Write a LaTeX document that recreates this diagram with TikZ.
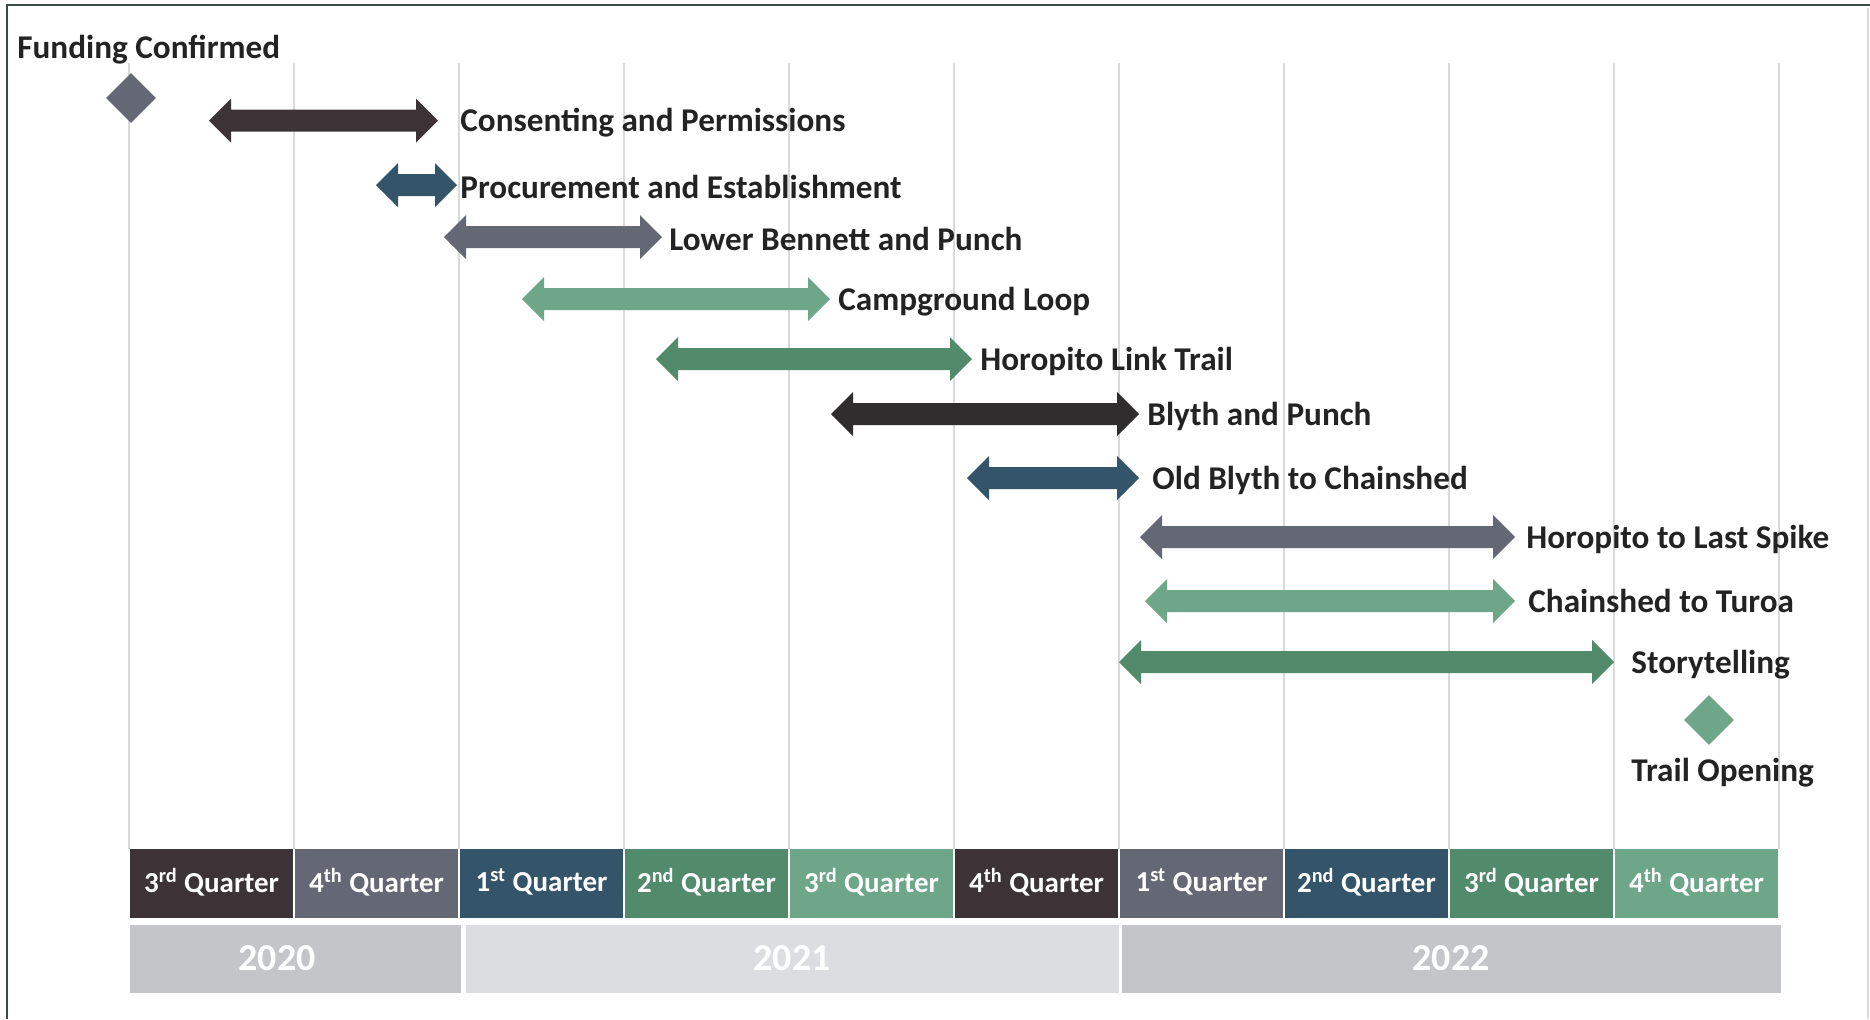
\documentclass[tikz,border=0pt]{standalone}
\usepackage{fontspec}
\setmainfont{Carlito}
\usetikzlibrary{shapes.geometric}

\definecolor{cdark}{HTML}{3C3337}
\definecolor{cblack}{HTML}{2F2D2E}
\definecolor{cgray}{HTML}{646874}
\definecolor{cblue}{HTML}{34546A}
\definecolor{cgreen}{HTML}{528A6C}
\definecolor{clight}{HTML}{6EA68A}
\definecolor{yearmid}{HTML}{C3C5C8}
\definecolor{yearpale}{HTML}{DCDDE0}
\definecolor{gridc}{HTML}{D9D9D9}
\definecolor{framec}{HTML}{3F4A48}
\definecolor{labelc}{HTML}{232323}

% double-headed block arrow: name, colour, left tip x, right tip x, centre y
\newcommand\spanarrow[5]{%
  \fill[#2] (#3,#5) -- ({#3+22},{#5-22}) -- ({#3+22},{#5-11})
    -- ({#4-22},{#5-11}) -- ({#4-22},{#5-22}) -- (#4,#5)
    -- ({#4-22},{#5+22}) -- ({#4-22},{#5+11}) -- ({#3+22},{#5+11})
    -- ({#3+22},{#5+22}) -- cycle;
  \coordinate (#1) at (#4,#5);
}

\begin{document}
\begin{tikzpicture}[x=0.5pt,y=-0.5pt,
  lbl/.style={anchor=west, inner sep=0pt, text=labelc, yshift=-1.2pt,
    font=\bfseries\fontsize{16.6}{18}\selectfont},
  qtr/.style={inner sep=0pt, text=white,
    font=\bfseries\fontsize{14.5}{16}\selectfont},
  yr/.style={inner sep=0pt, text=white,
    font=\bfseries\fontsize{19}{22}\selectfont},
  grid line/.style={gridc, line width=1pt},
  milestone/.style={diamond, inner sep=0pt, minimum width=25pt, minimum height=25pt}]

\useasboundingbox (0,0) rectangle (1870,1019);
\fill[white] (0,0) rectangle (1870,1019);

% outer frame
\draw[framec, line width=1.2pt] (7,1019) -- (7,5) -- (1870,5);
\draw[gridc, line width=0.6pt] (1868,8) -- (1868,1019);

% quarter grid lines
\foreach \k in {0,...,10}
  \draw[grid line] ({129+165*\k},63) -- ({129+165*\k},849);

% quarter cells
\foreach \k/\cc/\qq in {0/cdark/3\textsuperscript{rd},1/cgray/4\textsuperscript{th},
    2/cblue/1\textsuperscript{st},3/cgreen/2\textsuperscript{nd},4/clight/3\textsuperscript{rd},
    5/cdark/4\textsuperscript{th},6/cgray/1\textsuperscript{st},7/cblue/2\textsuperscript{nd},
    8/cgreen/3\textsuperscript{rd},9/clight/4\textsuperscript{th}}{
  \fill[\cc] ({129+165*\k+1},849) rectangle ({129+165*(\k+1)-1},918);
  \node[qtr] (q\k) at ({129+165*\k+82.5},882) {\qq\ Quarter};
}

% year bands
\fill[yearmid]  (130,925) rectangle (461,993);
\fill[yearpale] (466,925) rectangle (1119,993);
\fill[yearmid]  (1122,925) rectangle (1781,993);
\node[yr] (y2020) at (277,958) {2020};
\node[yr] (y2021) at (792,958) {2021};
\node[yr] (y2022) at (1451,958) {2022};

% milestones
\node[milestone, fill=cgray] (fund) at (131,98) {};
\node[lbl] (fundlbl) at (17,47) {Funding Confirmed};
\node[milestone, fill=clight] (open) at (1709,720) {};
\node[lbl] (openlbl) at (1631,770) {Trail Opening};

% work packages
\spanarrow{cons}{cdark}{209}{438}{120.5}
\node[lbl] (conslbl) at (460,120.5) {Consenting and Permissions};
\spanarrow{proc}{cblue}{376}{457}{185}
\node[lbl] (proclbl) at (460,185) {Procurement and Establishment};
\spanarrow{lbp}{cgray}{444}{662}{237}
\node[lbl] (lbplbl) at (669,237) {Lower Bennett and Punch};
\spanarrow{camp}{clight}{522}{830}{299}
\node[lbl] (camplbl) at (838,299) {Campground Loop};
\spanarrow{hlt}{cgreen}{656}{972}{359}
\node[lbl] (hltlbl) at (980,359) {Horopito Link Trail};
\spanarrow{bp}{cblack}{831}{1139}{414}
\node[lbl] (bplbl) at (1147,414) {Blyth and Punch};
\spanarrow{obc}{cblue}{967}{1139}{478}
\node[lbl] (obclbl) at (1152,478) {Old Blyth to Chainshed};
\spanarrow{hls}{cgray}{1140}{1515}{537}
\node[lbl] (hlslbl) at (1526,537) {Horopito to Last Spike};
\spanarrow{ct}{clight}{1145}{1515}{601}
\node[lbl] (ctlbl) at (1528,599) {Chainshed to Turoa};
\spanarrow{story}{cgreen}{1119}{1614}{662}
\node[lbl] (storylbl) at (1631,662) {Storytelling};

\end{tikzpicture}
\end{document}
